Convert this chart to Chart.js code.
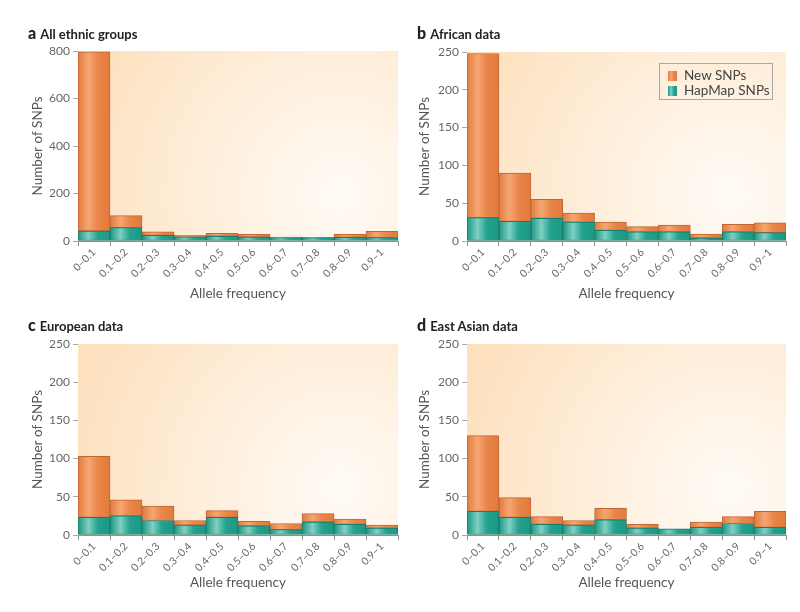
<!DOCTYPE html>
<html>
<head>
<meta charset="utf-8">
<script src="https://cdn.jsdelivr.net/npm/chart.js@4.4.1/dist/chart.umd.min.js"></script>
<style>
  body { margin: 0; background: #fff; font-family: Lato, "Open Sans", sans-serif; }
  #wrap { position: relative; width: 800px; height: 612px; overflow: hidden; }
  canvas { position: absolute; }
  .titulo { position: absolute; font-weight: bold; font-size: 13px; color: #222; white-space: nowrap; }
  .titulo b { font-size: 16px; margin-right: 4px; }
  #legenda { position: absolute; left: 659px; top: 63px; width: 112px; height: 35px;
    border: 1px solid #a8a8a8; font-size: 13.5px; color: #444; }
  #legenda div { position: absolute; left: 8px; height: 16px; line-height: 16px; }
  #legenda span { display: inline-block; width: 9px; height: 10px; margin-right: 7px; vertical-align: -1px; }
</style>
</head>
<body>
<div id="wrap">
  <canvas id="ga" width="400" height="306" style="left:0;top:0"></canvas>
  <canvas id="gb" width="400" height="306" style="left:400px;top:0"></canvas>
  <canvas id="gc" width="400" height="312" style="left:0;top:300px"></canvas>
  <canvas id="gd" width="400" height="312" style="left:400px;top:300px"></canvas>
  <div class="titulo" style="left:28px;top:23px"><b>a</b>All ethnic groups</div>
  <div class="titulo" style="left:417px;top:23px"><b>b</b>African data</div>
  <div class="titulo" style="left:28px;top:315px"><b>c</b>European data</div>
  <div class="titulo" style="left:417px;top:315px"><b>d</b>East Asian data</div>
  <div id="legenda"></div>
</div>
<script>
// dados
const categorias = ["0–0.1", "0.1–0.2", "0.2–0.3", "0.3–0.4", "0.4–0.5",
  "0.5–0.6", "0.6–0.7", "0.7–0.8", "0.8–0.9", "0.9–1"];
const nomeNovos = "New SNPs";
const nomeHapmap = "HapMap SNPs";

const ticksTodos = [0, 200, 400, 600, 800];
const ticksPop = [0, 50, 100, 150, 200, 250];

// a All ethnic groups
const hapTodos = [42, 56, 24, 18, 20, 17, 14, 14, 15, 14];
const novosTodos = [755, 51, 15, 6, 12, 11, 3, 1, 13, 27];
// b African data
const hapAfrica = [31, 26, 30, 25, 14, 12, 12, 4, 12, 11];
const novosAfrica = [217, 64, 25, 12, 11, 7, 9, 5, 10, 13];
// c European data
const hapEuropa = [23, 25, 19, 13, 23, 12, 7, 17, 14, 9];
const novosEuropa = [80, 21, 19, 6, 9, 6, 8, 11, 7, 4];
// d East Asian data
const hapAsia = [31, 23, 14, 13, 20, 9, 8, 10, 15, 10];
const novosAsia = [99, 26, 10, 6, 15, 5, 0, 7, 9, 21];

// cores
const corLaranja = ["#e47b3b", "#f4a673", "#ea864a", "#e27a3a"];
const corVerde = ["#1a9783", "#7fd0c2", "#24a28e", "#1c9884"];
const bordaLaranja = "#bf6637";
const bordaVerde = "#1a7c6c";
const corEixo = "#a3acb3";
const fonte = "Lato, 'Open Sans', sans-serif";

// legenda
let legenda = document.getElementById("legenda");
[[nomeNovos, corLaranja, 3], [nomeHapmap, corVerde, 18]].forEach(item => {
  let d = document.createElement("div");
  d.style.top = item[2] + "px";
  d.innerHTML = `<span style="background: linear-gradient(90deg, ${item[1][0]}, ${item[1][1]} 35%, ${item[1][2]} 65%, ${item[1][3]})"></span>${item[0]}`;
  legenda.appendChild(d);
});

// preenchimento com brilho no meio da barra
function preenchimento(cores) {
  return function (ctx) {
    let chart = ctx.chart;
    let area = chart.chartArea;
    if (!area || ctx.dataIndex === undefined) return cores[2];
    let cx = chart.scales.x.getPixelForValue(ctx.dataIndex);
    let meia = (area.right - area.left) / categorias.length / 2;
    let g = chart.ctx.createLinearGradient(cx - meia, 0, cx + meia, 0);
    g.addColorStop(0, cores[0]);
    g.addColorStop(0.33, cores[1]);
    g.addColorStop(0.62, cores[2]);
    g.addColorStop(1, cores[3]);
    return g;
  };
}

// fundo pêssego
const fundo = {
  id: "fundo",
  beforeDatasetsDraw(chart) {
    let a = chart.chartArea;
    let c = chart.ctx;
    let w = a.right - a.left, h = a.bottom - a.top;
    let g = c.createRadialGradient(a.left + w * 0.82, a.top + h * 0.75, 0,
      a.left + w * 0.82, a.top + h * 0.75, w * 0.9);
    g.addColorStop(0, "#fffbf6");
    g.addColorStop(1, "#fde0bd");
    c.save();
    c.fillStyle = g;
    c.fillRect(a.left, a.top, w, h);
    c.restore();
  }
};

function criarGrafico(id, hap, novos, ticks, pad, larguraY, alturaX) {
  let ctx = document.getElementById(id).getContext("2d");
  return new Chart(ctx, {
    type: "bar",
    data: {
      labels: categorias,
      datasets: [
        {
          label: nomeHapmap, data: hap,
          backgroundColor: preenchimento(corVerde),
          borderColor: bordaVerde, borderWidth: 1, borderSkipped: false
        },
        {
          label: nomeNovos, data: novos,
          backgroundColor: preenchimento(corLaranja),
          borderColor: bordaLaranja, borderWidth: 1, borderSkipped: false
        }
      ]
    },
    plugins: [fundo],
    options: {
      responsive: false,
      animation: false,
      events: [],
      barPercentage: 1,
      categoryPercentage: 1,
      layout: { padding: pad },
      plugins: { legend: { display: false }, tooltip: { enabled: false } },
      scales: {
        x: {
          stacked: true,
          grid: { drawOnChartArea: false, tickLength: 5, color: "#8f8f8f" },
          border: { color: "#8f8f8f" },
          ticks: {
            minRotation: 45, maxRotation: 45, padding: 0,
            color: "#666", font: { family: fonte, size: 10.5 }
          },
          title: {
            display: true, text: "Allele frequency",
            color: "#555", font: { family: fonte, size: 13.5 }
          },
          afterFit(s) { s.height = alturaX; }
        },
        y: {
          stacked: true,
          min: 0,
          max: ticks[ticks.length - 1],
          afterBuildTicks(s) { s.ticks = ticks.map(v => ({ value: v })); },
          grid: { drawOnChartArea: false, tickLength: 5, color: corEixo },
          border: { color: corEixo },
          ticks: { padding: 3, color: "#666", font: { family: fonte, size: 12 } },
          title: {
            display: true, text: "Number of SNPs",
            color: "#555", font: { family: fonte, size: 13.5 }
          },
          afterFit(s) { s.width = larguraY; }
        }
      }
    }
  });
}

criarGrafico("ga", hapTodos, novosTodos, ticksTodos, { left: 26, right: 2, top: 51, bottom: 0 }, 52, 65);
criarGrafico("gb", hapAfrica, novosAfrica, ticksPop, { left: 13, right: 14, top: 52, bottom: 0 }, 54, 65);
criarGrafico("gc", hapEuropa, novosEuropa, ticksPop, { left: 26, right: 2, top: 44, bottom: 17 }, 52, 60);
criarGrafico("gd", hapAsia, novosAsia, ticksPop, { left: 13, right: 14, top: 44, bottom: 17 }, 54, 60);
</script>
</body>
</html>
